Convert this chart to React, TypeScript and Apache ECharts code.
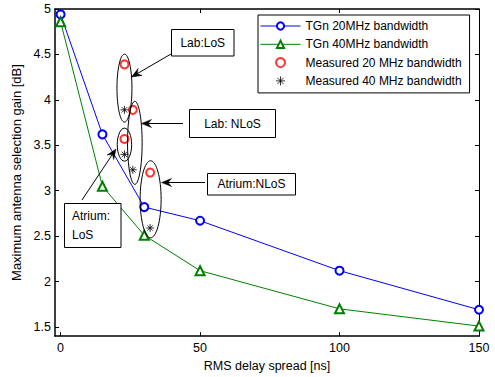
import React, { useEffect, useRef } from 'react';
import * as echarts from 'echarts';

// ---- data ----
const delaySpread = [0, 15, 30, 50, 100, 150];
const tgn20 = [4.94, 3.62, 2.82, 2.67, 2.12, 1.69];
const tgn40 = [4.86, 3.05, 2.51, 2.12, 1.70, 1.51];
const sites = ['Lab:LoS', 'Lab: NLoS', 'Atrium: LoS', 'Atrium:NLoS'];
const measuredX = [22.9, 25.9, 22.9, 32.1];
const measured20 = [4.39, 3.89, 3.57, 3.2];
const measured40 = [3.89, 3.23, 3.4, 2.59];
const xTicks = [0, 50, 100, 150];
const yTicks = [1.5, 2, 2.5, 3, 3.5, 4, 4.5, 5];
const seriesNames = [
  'TGn 20MHz bandwidth',
  'TGn 40MHz bandwidth',
  'Measured 20 MHz bandwidth',
  'Measured 40 MHz bandwidth',
];

const FONT = '"Liberation Sans", Arial, Helvetica, sans-serif';
const ASTERISK = 'path://M5,0L5,10M0,5L10,5M1.6,1.6L8.4,8.4M1.6,8.4L8.4,1.6';

// ellipse layout around each measured pair (pixel offsets / radii)
const ellipseLayout = [
  { dx: 0, dy: 1, rx: 7.5, ry: 34 },
  { dx: 2, dy: 3, rx: 7.3, ry: 41.5 },
  { dx: 0, dy: -2, rx: 7.2, ry: 16.5 },
  { dx: 0.5, dy: -1, rx: 10.5, ry: 38.5 },
];

// callout boxes (pixels)
const callouts = [
  { box: [171.5, 29.5, 62.5, 26.5], lines: ['Lab:LoS'], align: 'center', tail: [171, 54], tip: [131.5, 77] },
  { box: [189.5, 109.5, 86, 28], lines: ['Lab: NLoS'], align: 'center', tail: [183, 123.5], tip: [141.5, 123.5] },
  { box: [207.5, 173.5, 88, 21.5], lines: ['Atrium:NLoS'], align: 'center', tail: [205, 182.5], tip: [161.5, 182.5] },
  { box: [64.5, 203.5, 56.5, 44], lines: ['Atrium:', 'LoS'], align: 'left', tail: [82, 200], tip: [116, 149] },
];

function arrowHead(tail: number[], tip: number[]) {
  const ang = Math.atan2(tip[1] - tail[1], tip[0] - tail[0]);
  const L = 10, W = 4, N = 6.5;
  const ux = Math.cos(ang), uy = Math.sin(ang);
  const px = -uy, py = ux;
  const bx = tip[0] - ux * L, by = tip[1] - uy * L;
  const nx = tip[0] - ux * N, ny = tip[1] - uy * N;
  return [
    [tip[0], tip[1]],
    [bx + px * W, by + py * W],
    [nx, ny],
    [bx - px * W, by - py * W],
  ];
}

export default function App() {
  const ref = useRef<HTMLDivElement>(null);
  useEffect(() => {
    if (!ref.current) return;
    const chart = echarts.init(ref.current, undefined, { renderer: 'svg' });
    const axisCommon = {
      type: 'value',
      splitLine: { show: false },
      axisLine: { show: true, onZero: false, lineStyle: { color: '#000', width: 1.5 } },
      axisTick: { show: true, inside: true, length: 4, lineStyle: { color: '#000', width: 1 } },
    };
    const option: any = {
      animation: false,
      backgroundColor: '#fff',
      grid: { left: 55, right: 16, top: 9, bottom: 36, containLabel: false },
      xAxis: [
        {
          ...axisCommon,
          position: 'bottom',
          min: -2,
          max: 150,
          axisTick: { ...axisCommon.axisTick, customValues: xTicks },
          axisLabel: { customValues: xTicks, color: '#000', fontSize: 12.5, fontFamily: FONT, margin: 5 },
          name: 'RMS delay spread [ns]',
          nameLocation: 'middle',
          nameGap: 20,
          nameTextStyle: { color: '#000', fontSize: 12.5, fontFamily: FONT },
        },
        {
          ...axisCommon,
          position: 'top',
          min: -2,
          max: 150,
          axisTick: { ...axisCommon.axisTick, customValues: xTicks },
          axisLabel: { show: false, customValues: xTicks },
        },
      ],
      yAxis: [
        {
          ...axisCommon,
          position: 'left',
          min: 1.4,
          max: 5,
          axisTick: { ...axisCommon.axisTick, customValues: yTicks },
          axisLabel: { customValues: yTicks, color: '#000', fontSize: 12.5, fontFamily: FONT, margin: 4 },
          name: 'Maximum antenna selection gain [dB]',
          nameLocation: 'middle',
          nameGap: 30,
          nameTextStyle: { color: '#000', fontSize: 13, fontFamily: FONT },
        },
        {
          ...axisCommon,
          position: 'right',
          min: 1.4,
          max: 5,
          axisLine: { show: true, onZero: false, lineStyle: { color: '#000', width: 1 } },
          axisTick: { ...axisCommon.axisTick, customValues: yTicks },
          axisLabel: { show: false, customValues: yTicks },
        },
      ],
      legend: {
        data: seriesNames,
        orient: 'vertical',
        left: 258,
        top: 15,
        itemWidth: 40,
        itemHeight: 9,
        itemGap: 6.3,
        padding: [5, 8, 6, 2],
        backgroundColor: '#fff',
        borderColor: '#000',
        borderWidth: 1,
        borderRadius: 0,
        selectedMode: false,
        lineStyle: { width: 1 },
        itemStyle: { borderWidth: 1 },
        textStyle: { color: '#000', fontSize: 12, fontFamily: FONT },
      },
      series: [
        {
          name: seriesNames[0],
          type: 'line',
          data: delaySpread.map((x, i) => [x, tgn20[i]]),
          symbol: 'emptyCircle',
          symbolSize: 8,
          lineStyle: { color: '#0000ff', width: 1 },
          itemStyle: { color: '#0000ff', borderColor: '#0000ff', borderWidth: 1 },
          clip: false,
          z: 3,
        },
        {
          name: seriesNames[1],
          type: 'line',
          data: delaySpread.map((x, i) => [x, tgn40[i]]),
          symbol: 'emptyTriangle',
          symbolSize: 9,
          lineStyle: { color: '#008000', width: 1 },
          itemStyle: { color: '#008000', borderColor: '#008000', borderWidth: 1 },
          clip: false,
          z: 3,
        },
        {
          name: seriesNames[2],
          type: 'scatter',
          data: measuredX.map((x, i) => [x, measured20[i]]),
          symbol: 'emptyCircle',
          symbolSize: 8,
          itemStyle: { color: '#ff0000', borderColor: '#ff0000', borderWidth: 1 },
          z: 4,
        },
        {
          name: seriesNames[3],
          type: 'scatter',
          data: measuredX.map((x, i) => [x, measured40[i]]),
          symbol: ASTERISK,
          symbolKeepAspect: true,
          symbolSize: 8,
          itemStyle: { color: '#000', borderColor: '#000', borderWidth: 1 },
          z: 4,
        },
      ],
    };
    chart.setOption(option);

    const toPx = (x: number, y: number) =>
      chart.convertToPixel({ xAxisIndex: 0, yAxisIndex: 0 }, [x, y]) as number[];

    const graphics: any[] = [];
    sites.forEach((_, i) => {
      const c = toPx(measuredX[i], (measured20[i] + measured40[i]) / 2);
      const l = ellipseLayout[i];
      graphics.push({
        type: 'ellipse',
        shape: { cx: c[0] + l.dx, cy: c[1] + l.dy, rx: l.rx, ry: l.ry },
        style: { fill: 'none', stroke: '#000', lineWidth: 1 },
        z: 100,
      });
    });
    callouts.forEach((co) => {
      const [bx, by, bw, bh] = co.box;
      graphics.push({
        type: 'rect',
        shape: { x: bx, y: by, width: bw, height: bh },
        style: { fill: '#fff', stroke: '#000', lineWidth: 1 },
        z: 100,
      });
      const lh = 19;
      co.lines.forEach((t, k) => {
        const ty = by + bh / 2 + (k - (co.lines.length - 1) / 2) * lh;
        graphics.push({
          type: 'text',
          style: {
            text: t,
            x: co.align === 'center' ? bx + bw / 2 : bx + 7.5,
            y: ty,
            fill: '#000',
            font: `12px ${FONT}`,
            align: co.align,
            verticalAlign: 'middle',
            textAlign: co.align,
            textVerticalAlign: 'middle',
          },
          z: 101,
        });
      });
      const head = arrowHead(co.tail, co.tip);
      graphics.push({
        type: 'line',
        shape: { x1: co.tail[0], y1: co.tail[1], x2: head[2][0], y2: head[2][1] },
        style: { stroke: '#000', lineWidth: 1 },
        z: 100,
      });
      graphics.push({
        type: 'polygon',
        shape: { points: head },
        style: { fill: '#000', stroke: '#000', lineWidth: 0.5 },
        z: 100,
      });
    });
    chart.setOption({ graphic: graphics });

    return () => chart.dispose();
  }, []);

  return (
    <div
      ref={ref}
      style={{ position: 'fixed', left: 0, top: 0, width: 495, height: 377, background: '#fff' }}
    />
  );
}
